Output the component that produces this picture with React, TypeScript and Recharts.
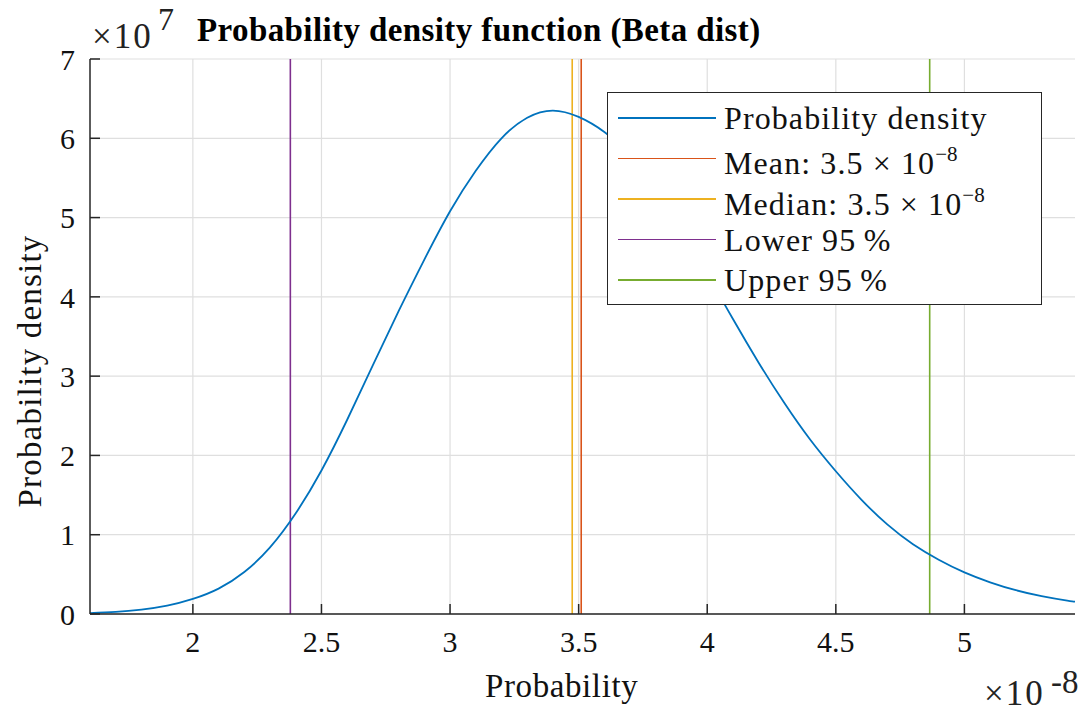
import { LineChart, Line, XAxis, YAxis, CartesianGrid, ReferenceLine } from 'recharts'

// probability (x 1e-8) and density (x 1e7)
const probability = [
  1.6, 1.7, 1.8, 1.9, 2.0, 2.1, 2.2, 2.3, 2.4, 2.5, 2.6, 2.7, 2.8, 2.9, 3.0, 3.1, 3.2, 3.3, 3.4, 3.5,
  3.6, 3.7, 3.8, 3.9, 4.0, 4.1, 4.2, 4.3, 4.4, 4.5, 4.6, 4.7, 4.8, 4.9, 5.0, 5.1, 5.2, 5.3, 5.4, 5.43,
]
const density = [
  0.012, 0.026, 0.055, 0.105, 0.19, 0.32, 0.53, 0.84, 1.27, 1.81, 2.45, 3.14, 3.82, 4.47, 5.08, 5.59, 6.0, 6.26, 6.35, 6.27,
  6.08, 5.79, 5.39, 4.88, 4.3, 3.72, 3.17, 2.66, 2.2, 1.8, 1.44, 1.13, 0.88, 0.685, 0.525, 0.4, 0.3, 0.225, 0.168, 0.155,
]

const xTicks = [2, 2.5, 3, 3.5, 4, 4.5, 5]
const yTicks = [0, 1, 2, 3, 4, 5, 6, 7]

// summary statistics drawn as vertical lines
const markerNames = ['Mean', 'Median', 'Lower', 'Upper']
const markerValues = [3.51, 3.475, 2.379, 4.865]
const markerColors = ['#D95319', '#EDB120', '#7E2F8E', '#77AC30']

const CURVE_COLOR = '#0072BD'
const AXIS_COLOR = '#262626'
const FONT = '"Liberation Serif", "DejaVu Serif", serif'

const data = probability.map((p, i) => ({ p, d: density[i] }))

const sup = { fontSize: 21, verticalAlign: 13, letterSpacing: 0 }

const legendRows = [
  { color: CURVE_COLOR, label: <>Probability density</> },
  {
    color: markerColors[0],
    label: (
      <>
        {markerNames[0]}: 3.5 × 10<sup style={sup}>−8</sup>
      </>
    ),
  },
  {
    color: markerColors[1],
    label: (
      <>
        {markerNames[1]}: 3.5 × 10<sup style={sup}>−8</sup>
      </>
    ),
  },
  { color: markerColors[2], label: <>{markerNames[2]} 95&#8201;%</> },
  { color: markerColors[3], label: <>{markerNames[3]} 95&#8201;%</> },
]

const abs = (left: number, top: number, fontSize: number, lineHeight = fontSize) => ({
  position: 'absolute' as const,
  left,
  top,
  fontSize,
  lineHeight: `${lineHeight}px`,
  whiteSpace: 'nowrap' as const,
  color: '#111',
})

export default function App() {
  return (
    <div
      style={{
        position: 'absolute',
        left: 0,
        top: 0,
        width: 1080,
        height: 713,
        overflow: 'hidden',
        background: '#fff',
        fontFamily: FONT,
      }}
    >
      <LineChart width={1080} height={713} data={data} margin={{ top: 59, right: 5, bottom: 0, left: 0 }}>
        <CartesianGrid stroke="#dfdfdf" strokeWidth={1.2} verticalValues={xTicks} horizontalValues={yTicks} />
        <XAxis
          dataKey="p"
          type="number"
          domain={[1.6, 5.43]}
          ticks={xTicks}
          allowDataOverflow
          height={99}
          tickSize={-10}
          tickMargin={27}
          stroke={AXIS_COLOR}
          strokeWidth={1.5}
          tick={{ fill: '#111', fontSize: 30, fontFamily: FONT }}
          tickFormatter={(v: number) => String(v)}
        />
        <YAxis
          type="number"
          domain={[0, 7]}
          ticks={yTicks}
          width={90}
          tickSize={-10}
          tickMargin={25}
          stroke={AXIS_COLOR}
          strokeWidth={1.5}
          tick={{ fill: '#111', fontSize: 30, fontFamily: FONT }}
        />
        {markerValues.map((v, i) => (
          <ReferenceLine key={markerNames[i]} x={v} stroke={markerColors[i]} strokeWidth={1.6} ifOverflow="hidden" />
        ))}
        <Line
          dataKey="d"
          type="natural"
          stroke={CURVE_COLOR}
          strokeWidth={1.8}
          dot={false}
          isAnimationActive={false}
        />
      </LineChart>

      {/* title */}
      <div style={{ ...abs(197, 14, 33), fontWeight: 'bold', letterSpacing: 0.4, color: '#000' }}>
        Probability density function (Beta dist)
      </div>

      {/* axis exponents */}
      <div style={{ ...abs(92, 19, 35), letterSpacing: 2, color: '#222' }}>×10</div>
      <div style={{ ...abs(158, 3, 32), color: '#222' }}>7</div>
      <div style={{ ...abs(984, 680, 35, 28), letterSpacing: 2, color: '#222' }}>×10</div>
      <div style={{ ...abs(1051, 666, 33), color: '#222' }}>-8</div>

      {/* axis titles */}
      <div style={{ ...abs(485, 670, 33), letterSpacing: 0.6 }}>Probability</div>
      <div
        style={{
          ...abs(30, 371, 33),
          letterSpacing: 1.2,
          transform: 'translate(-50%, -50%) rotate(-90deg)',
        }}
      >
        Probability density
      </div>

      {/* legend */}
      <div
        style={{
          position: 'absolute',
          left: 607,
          top: 92,
          width: 433,
          height: 211,
          border: `1.5px solid ${AXIS_COLOR}`,
          background: '#fff',
        }}
      >
        {legendRows.map((row, i) => (
          <div
            key={i}
            style={{
              position: 'absolute',
              left: 10,
              top: 5 + i * 40.5,
              height: 40,
              display: 'flex',
              alignItems: 'center',
            }}
          >
            <div style={{ width: 98, height: 1.8, background: row.color }} />
            <div
              style={{
                marginLeft: 8,
                fontSize: 32,
                letterSpacing: 1.1,
                lineHeight: '40px',
                whiteSpace: 'nowrap',
                color: '#111',
              }}
            >
              {row.label}
            </div>
          </div>
        ))}
      </div>
    </div>
  )
}
